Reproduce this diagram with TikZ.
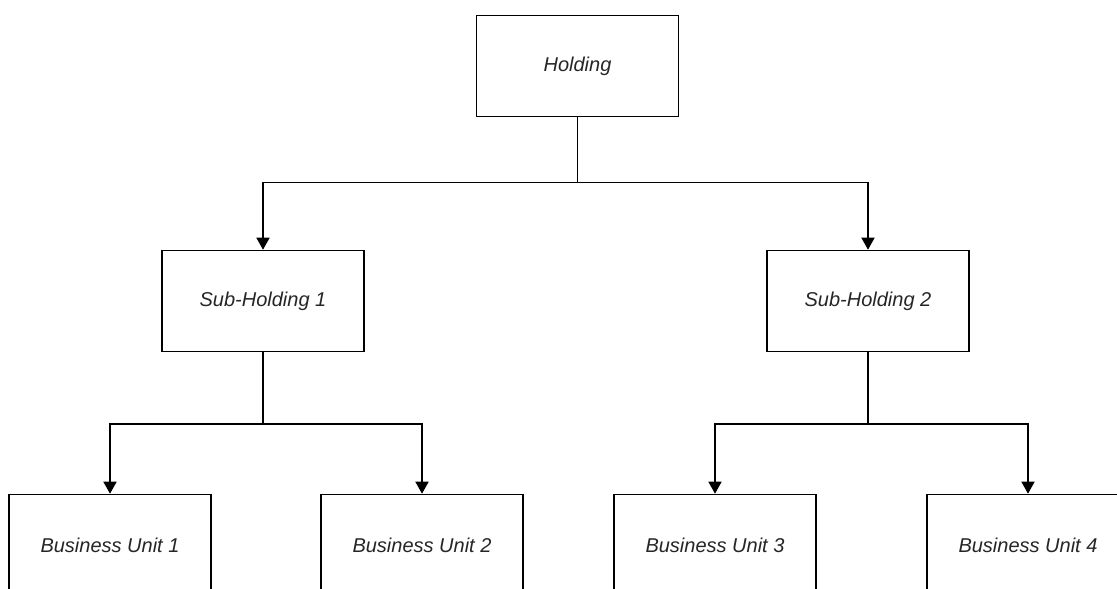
\documentclass[tikz,border=0pt]{standalone}
\usepackage{fontspec}
\setmainfont{Liberation Sans}
\usetikzlibrary{arrows.meta}
\begin{document}
\begin{tikzpicture}[x=1pt,y=-1pt,
  labelfont/.style={font=\fontsize{20}{24}\selectfont\itshape, text=black!85},
  orgbox/.style={draw=black, line width=1.6pt, fill=white,
    minimum width=202pt, minimum height=101pt, inner sep=0pt, labelfont},
  link/.style={draw=black, line width=1.6pt},
  arr/.style={link, -{Triangle[length=12pt,width=13pt]}}]
\useasboundingbox (0,0) rectangle (1117,589);
\clip (0,0) rectangle (1117,589);
% boxes
\node[orgbox] (h)  at (577.5,66)  {Holding};
\node[orgbox] (s1) at (263,301)   {Sub-Holding 1};
\node[orgbox] (s2) at (868,301)   {Sub-Holding 2};
\node[orgbox] (b1) at (110,545)   {};
\node[orgbox] (b2) at (422,545)   {};
\node[orgbox] (b3) at (715,545)   {};
\node[orgbox] (b4) at (1028,545)  {};
% labels of the lower row
\node[labelfont] (t1) at (110,545) {Business Unit 1};
\node[labelfont] (t2) at (422,545) {Business Unit 2};
\node[labelfont] (t3) at (715,545) {Business Unit 3};
\node[labelfont] (t4) at (1028,545) {Business Unit 4};
% junctions
\coordinate (j0) at (577.5,182.5);
\coordinate (j1) at (263,424);
\coordinate (j2) at (868,424);
% connectors
\draw[link] (h.south) -- (j0);
\draw[arr] (j0) -| (s1.north);
\draw[arr] (j0) -| (s2.north);
\draw[link] (s1.south) -- (j1);
\draw[arr] (j1) -| (b1.north);
\draw[arr] (j1) -| (b2.north);
\draw[link] (s2.south) -- (j2);
\draw[arr] (j2) -| (b3.north);
\draw[arr] (j2) -| (b4.north);
\end{tikzpicture}
\end{document}
